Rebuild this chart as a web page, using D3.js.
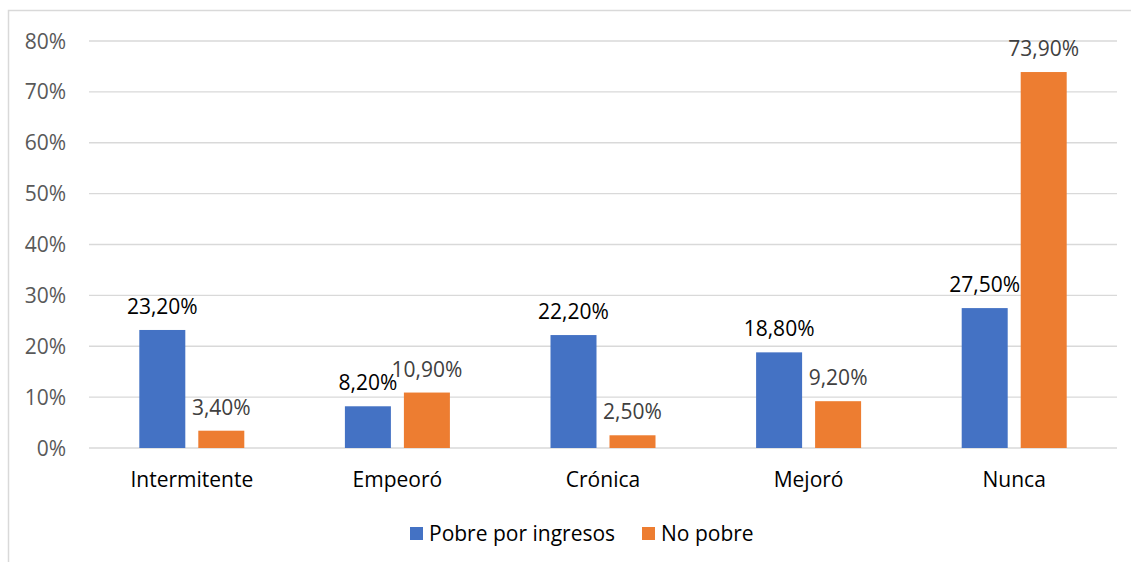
<!DOCTYPE html>
<html>
<head>
<meta charset="utf-8">
<script src="https://cdn.jsdelivr.net/npm/d3@7"></script>
<style>
body { margin: 0; background: #fff; }
text { font-family: "Open Sans", sans-serif; }
</style>
</head>
<body>
<div id="chart"></div>
<script>
// data
var categories = ["Intermitente", "Empeoró", "Crónica", "Mejoró", "Nunca"]
var pobre = [23.2, 8.2, 22.2, 18.8, 27.5]
var noPobre = [3.4, 10.9, 2.5, 9.2, 73.9]
var seriesNames = ["Pobre por ingresos", "No pobre"]
var yTicks = [0, 10, 20, 30, 40, 50, 60, 70, 80]

var colors = ["#4472C4", "#ED7D31"]
var W = 1131, H = 562
var margin = {top: 41, right: 14, bottom: 114, left: 89}
var fs = 21

var svg = d3.select("#chart").append("svg")
  .attr("width", W).attr("height", H)

// outer frame (cut by the picture on right and bottom)
svg.append("rect")
  .attr("x", 8.5).attr("y", 10.5)
  .attr("width", W + 10).attr("height", H + 10)
  .attr("fill", "none").attr("stroke", "#d9d9d9").attr("stroke-width", 1.5)

var x = d3.scaleBand().domain(categories).range([margin.left, W - margin.right])
var y = d3.scaleLinear().domain([0, 80]).range([448, 41])

// gridlines
svg.append("g").selectAll("line").data(yTicks).enter().append("line")
  .attr("x1", margin.left).attr("x2", W - margin.right)
  .attr("y1", d => y(d)).attr("y2", d => y(d))
  .attr("stroke", "#d9d9d9").attr("stroke-width", 1.3)

// y labels
svg.append("g").selectAll("text").data(yTicks).enter().append("text")
  .attr("x", 66).attr("y", d => y(d) + 7.5)
  .attr("text-anchor", "end")
  .attr("font-size", fs).attr("fill", "#595959")
  .text(d => d + "%")

var barW = 46, gap = 13
var data = categories.map((c, i) => ({cat: c, vals: [pobre[i], noPobre[i]]}))

var groups = svg.append("g").selectAll("g").data(data).enter().append("g")

function barX(d, s) {
  var c = x(d.cat) + x.bandwidth() / 2
  return s == 0 ? c - gap / 2 - barW : c + gap / 2
}

groups.each(function(d) {
  var g = d3.select(this)
  d.vals.forEach(function(v, s) {
    g.append("rect")
      .attr("x", barX(d, s)).attr("y", y(v))
      .attr("width", barW).attr("height", y(0) - y(v))
      .attr("fill", colors[s])
    g.append("text")
      .attr("x", barX(d, s) + barW / 2)
      .attr("y", y(v) - 16)
      .attr("text-anchor", "middle")
      .attr("font-size", fs)
      .attr("fill", s == 0 ? "#000" : "#404040")
      .text(v.toFixed(2).replace(".", ",") + "%")
  })
})

// category labels
svg.append("g").selectAll("text").data(categories).enter().append("text")
  .attr("x", d => x(d) + x.bandwidth() / 2).attr("y", 487)
  .attr("text-anchor", "middle")
  .attr("font-size", fs).attr("fill", "#000")
  .text(d => d)

// legend
var legX = [410, 642]
var leg = svg.append("g").selectAll("g").data(seriesNames).enter().append("g")
leg.append("rect")
  .attr("x", (d, i) => legX[i]).attr("y", 527)
  .attr("width", 13).attr("height", 13)
  .attr("fill", (d, i) => colors[i])
leg.append("text")
  .attr("x", (d, i) => legX[i] + 19).attr("y", 541)
  .attr("font-size", fs).attr("fill", "#000")
  .text(d => d)
</script>
</body>
</html>
